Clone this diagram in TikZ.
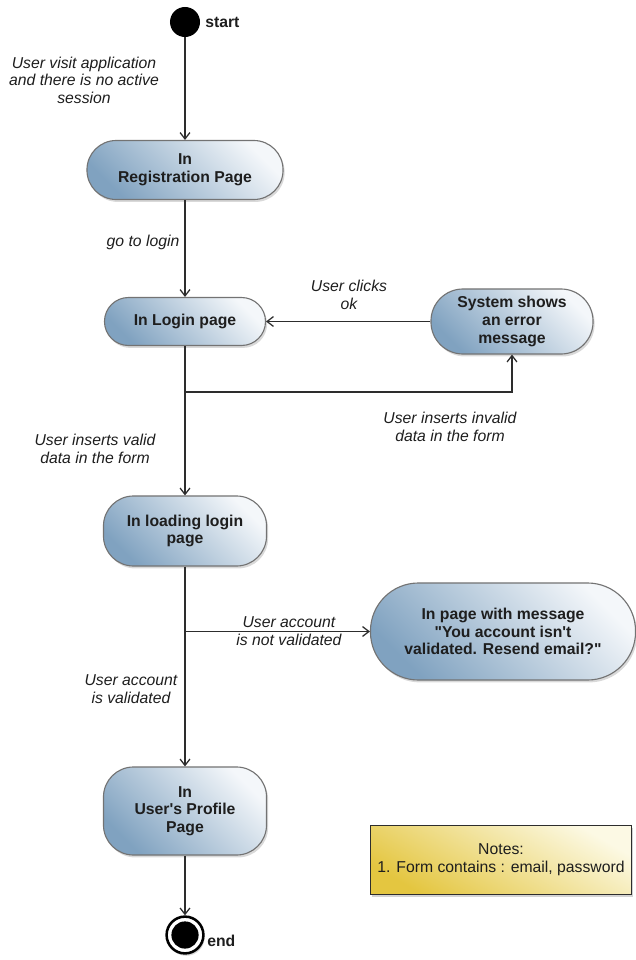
\documentclass[tikz,border=0pt]{standalone}
\usepackage{fontspec}
\setmainfont{Liberation Sans}
\usepackage{tikz}
\usetikzlibrary{arrows.meta,shadows}
\definecolor{actLight}{RGB}{244,247,250}
\definecolor{actDark}{RGB}{128,162,192}
\definecolor{actLine}{RGB}{115,115,115}
\definecolor{noteLight}{RGB}{252,249,228}
\definecolor{noteDark}{RGB}{228,198,64}
\definecolor{wire}{RGB}{45,45,45}
\definecolor{ink}{RGB}{30,30,30}
\tikzset{
    activity/.style={
        draw=actLine, line width=0.8pt, rectangle, rounded corners=#1,
        top color=actLight, middle color=actLight!72!actDark, bottom color=actDark,
        shading angle=-45,
        align=center, text=ink, inner sep=2pt,
        font=\fontsize{11.2}{12.6}\selectfont\bfseries,
        drop shadow={opacity=0.3, shadow xshift=0.04cm, shadow yshift=-0.06cm}
    },
    note/.style={
        draw=wire, line width=1pt, rectangle,
        top color=noteLight, middle color=noteLight!60!noteDark, bottom color=noteDark,
        shading angle=-30,
        align=center, text=ink, font=\fontsize{11.2}{12.6}\selectfont,
        drop shadow={opacity=0.35, shadow xshift=0.04cm, shadow yshift=-0.06cm}
    },
    guard/.style={align=center, text=ink, inner sep=0pt,
        font=\fontsize{11.2}{12.4}\selectfont\itshape},
    tag/.style={anchor=west, text=ink, inner sep=0pt,
        font=\fontsize{11.2}{12.6}\selectfont\bfseries},
    flow/.style={draw=wire, line width=0.9pt,
        -{Straight Barb[length=4.5pt,width=7pt]}},
    startdot/.style={circle, fill=black, minimum size=0.75cm, inner sep=0pt},
    endring/.style={circle, draw=black, line width=1.8pt, fill=white,
        minimum size=0.92cm, inner sep=0pt,
        drop shadow={opacity=0.3, shadow xshift=0.03cm, shadow yshift=-0.06cm}},
    enddot/.style={circle, fill=black, minimum size=0.68cm, inner sep=0pt},
}

\begin{document}
\begin{tikzpicture}[x=0.025cm, y=-0.025cm]
\useasboundingbox (0,0) rectangle (636,960);

\node[startdot] (start) at (185,22) {};
\node[tag] (startlbl) at (205,22) {start};

\node[activity=0.73cm, minimum width=4.9cm, minimum height=1.475cm] (reg) at (185,170) {In\\Registration Page};
\node[activity=0.6cm, minimum width=4.025cm, minimum height=1.2cm] (login) at (185,321.5) {In Login page};
\node[activity=0.8cm, minimum width=4.05cm, minimum height=1.625cm] (error) at (512,321.5) {System shows\\an error\\message};
\node[activity=0.75cm, minimum width=4.075cm, minimum height=1.75cm] (loading) at (185,531) {In loading login\\page};
\node[activity=1.2cm, minimum width=6.625cm, minimum height=2.425cm] (msg) at (503,631.5) {In page with message\\\textquotedbl You account isn\textquotesingle t\\validated. Resend email?\textquotedbl};
\node[activity=0.75cm, minimum width=4.075cm, minimum height=2.2cm] (profile) at (185,811) {In\\User\textquotesingle s Profile\\Page};
\node[note, minimum width=6.525cm, minimum height=1.725cm] (notes) at (501,860) {Notes:\\1. Form contains : email, password};

\node[endring] (end) at (185,935) {};
\node[enddot] (endcore) at (end) {};
\node[tag] (endlbl) at (207,941) {end};

\coordinate (invalid) at (185,392);
\coordinate (unvalid) at (185,631.5);

\draw[flow] (start) -- (reg);
\draw[flow] (reg) -- (login);
\draw[flow] (error) -- (login);
\draw[flow] (login) -- (invalid) -| (error);
\draw[flow] (invalid) -- (loading);
\draw[flow] (loading) -- (profile);
\draw[flow] (unvalid) -- (msg);
\draw[flow] (profile) -- (end);

\node[guard] (g1) at (84,80) {User visit application\\and there is no active\\session};
\node[guard] (g2) at (143,242) {go to login};
\node[guard] (g3) at (349,295) {User clicks\\ok};
\node[guard] (g4) at (450,427) {User inserts invalid\\data in the form};
\node[guard] (g5) at (95,449) {User inserts valid\\data in the form};
\node[guard] (g6) at (289,631) {User account\\is not validated};
\node[guard] (g7) at (131,689) {User account\\is validated};
\end{tikzpicture}
\end{document}
